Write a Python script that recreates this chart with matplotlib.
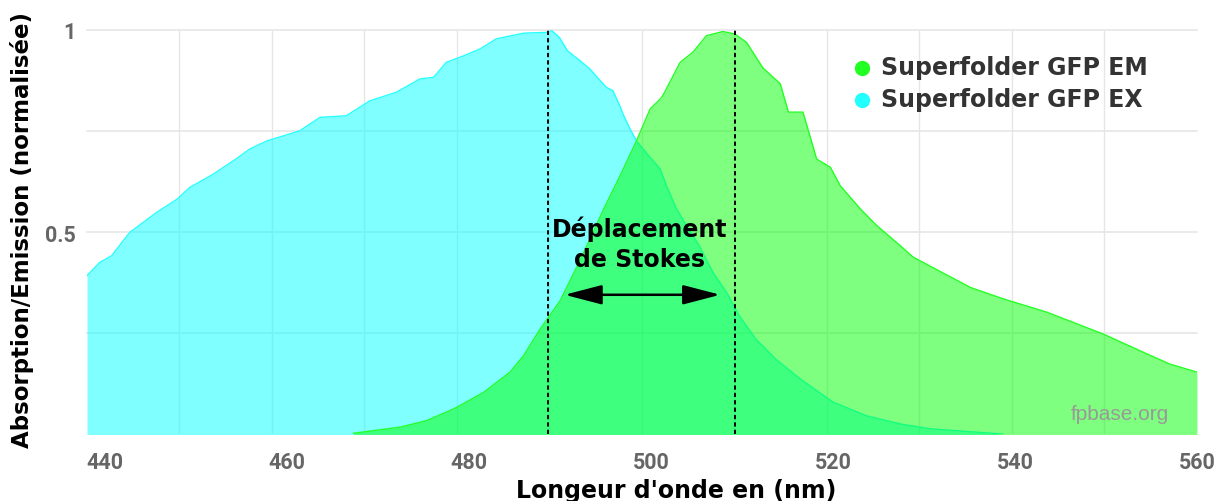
import numpy as np
import matplotlib
matplotlib.use('Agg')
import matplotlib.pyplot as plt


########################################################################
# data (wavelength in nm, normalised intensity)

ex_nm = [438.0, 439.4, 440.7, 442.7, 445.7, 447.9, 449.3, 451.9, 454.5, 455.9,
         457.8, 461.4, 463.6, 466.5, 469.1, 472.0, 474.6, 476.1, 477.5, 479.4,
         481.2, 483.0, 486.0, 488.5, 489.1, 489.9, 490.8, 491.5, 492.2, 493.3,
         494.4, 495.1, 495.8, 496.4, 497.0, 497.7, 498.4, 499.9, 501.0, 501.7,
         502.8, 503.9, 505.3, 506.8, 508.3, 509.7, 511.5, 513.7, 516.4, 520.0,
         523.7, 527.4, 530.7, 538.7]
ex_val = [0.392, 0.425, 0.441, 0.499, 0.549, 0.581, 0.610, 0.643, 0.682, 0.705,
          0.725, 0.750, 0.783, 0.787, 0.824, 0.845, 0.878, 0.882, 0.919, 0.935,
          0.952, 0.977, 0.991, 0.993, 0.997, 0.981, 0.948, 0.935, 0.923, 0.902,
          0.874, 0.857, 0.849, 0.820, 0.787, 0.754, 0.725, 0.684, 0.656, 0.614,
          0.557, 0.516, 0.466, 0.400, 0.351, 0.293, 0.236, 0.186, 0.137, 0.080,
          0.046, 0.026, 0.014, 0.001]

em_nm = [467.3, 472.4, 475.3, 478.3, 481.6, 484.5, 486.0, 487.8, 490.0, 492.2,
         494.8, 496.6, 498.4, 499.9, 501.0, 501.3, 503.2, 504.6, 506.1, 507.9,
         509.2, 510.5, 512.3, 514.2, 515.1, 516.4, 516.7, 518.2, 519.7, 520.8,
         523.0, 524.8, 527.4, 528.8, 535.1, 538.7, 543.5, 549.7, 554.5, 557.0,
         560.0]
em_val = [0.003, 0.018, 0.034, 0.063, 0.104, 0.154, 0.195, 0.260, 0.330, 0.430,
          0.557, 0.639, 0.725, 0.804, 0.828, 0.837, 0.919, 0.944, 0.985, 0.995,
          0.989, 0.968, 0.905, 0.866, 0.796, 0.796, 0.796, 0.680, 0.660, 0.614,
          0.557, 0.516, 0.466, 0.438, 0.363, 0.335, 0.302, 0.248, 0.199, 0.174,
          0.154]

ex_peak = 488.7
em_peak = 509.2

x_ticks = [440, 460, 480, 500, 520, 540, 560]
y_ticks = [0.5, 1]
y_tick_labels = ['0.5', '1']

em_label = 'Superfolder GFP EM'
ex_label = 'Superfolder GFP EX'

########################################################################

fig = plt.figure(figsize=(12.25, 5.02), dpi=100)
ax = fig.add_axes([0.0710, 0.1325, 0.9061, 0.8067])

x_min, x_max = 438, 560
ax.set_xlim(x_min, x_max)
ax.set_ylim(0, 1)

# grid (vertical lines split the axis in 12 equal parts)
for gx in np.linspace(x_min, x_max, 13)[1:-1]:
    ax.axvline(gx, color='#e6e6e6', lw=1, zorder=0)
for gy in [0.25, 0.5, 0.75, 1.0]:
    ax.axhline(gy, color='#e6e6e6', lw=1.2, zorder=0, clip_on=False)

ax.fill_between(ex_nm, ex_val, 0, color='#00ffff', alpha=0.5, lw=0, zorder=1)
ax.plot(ex_nm, ex_val, color='#22ffff', lw=1, zorder=1)
ax.fill_between(em_nm, em_val, 0, color='#00ff00', alpha=0.5, lw=0, zorder=2)
ax.plot(em_nm, em_val, color='#22ff22', lw=1, zorder=2)

ax.axvline(ex_peak, color='black', lw=1.4, ls=(0, (2.2, 1.6)), zorder=3)
ax.axvline(em_peak, color='black', lw=1.4, ls=(0, (2.2, 1.6)), zorder=3)

# Stokes shift
ax.annotate('', xy=(em_peak - 1.6, 0.345), xytext=(ex_peak + 1.8, 0.345),
            arrowprops=dict(arrowstyle='<|-|>,head_length=2.3,head_width=0.6',
                            color='black', lw=1.8, shrinkA=0, shrinkB=0),
            zorder=4)
ax.text((ex_peak + em_peak) / 2 - 0.2, 0.472, 'Déplacement\nde Stokes',
        ha='center', va='center', fontsize=17, fontweight='bold',
        family='DejaVu Sans', linespacing=1.3, zorder=4)

# legend
ax.scatter([0.698], [0.904], s=100, color='#22ff22', transform=ax.transAxes,
           clip_on=False, zorder=5)
ax.scatter([0.698], [0.825], s=100, color='#22ffff', transform=ax.transAxes,
           clip_on=False, zorder=5)
ax.text(0.715, 0.907, em_label, transform=ax.transAxes, ha='left', va='center',
        fontsize=17, fontweight='bold', color='#333333', family='DejaVu Sans')
ax.text(0.715, 0.828, ex_label, transform=ax.transAxes, ha='left', va='center',
        fontsize=17, fontweight='bold', color='#333333', family='DejaVu Sans')

ax.text(0.975, 0.052, 'fpbase.org', transform=ax.transAxes, ha='right',
        va='center', fontsize=15, color='#999999', family='Liberation Sans')

for s in ax.spines.values():
    s.set_visible(False)

ax.set_xticks(x_ticks)
ax.set_xticklabels([str(t) for t in x_ticks])
ax.set_yticks(y_ticks)
ax.set_yticklabels(y_tick_labels)
ax.tick_params(length=0, labelsize=15.5, labelcolor='#666666')
ax.tick_params(axis='x', pad=12)
ax.tick_params(axis='y', pad=8)
for lab in ax.get_xticklabels() + ax.get_yticklabels():
    lab.set_fontweight('bold')
    lab.set_family('Roboto')

fig.text(0.552, 0.022, "Longeur d'onde en (nm)", ha='center', va='center',
         fontsize=17, fontweight='bold', family='DejaVu Sans')
fig.text(0.018, 0.542, 'Absorption/Emission (normalisée)', ha='center',
         va='center', rotation=90, fontsize=16.5, fontweight='bold',
         family='DejaVu Sans')

fig.savefig('out.png', dpi=100)
